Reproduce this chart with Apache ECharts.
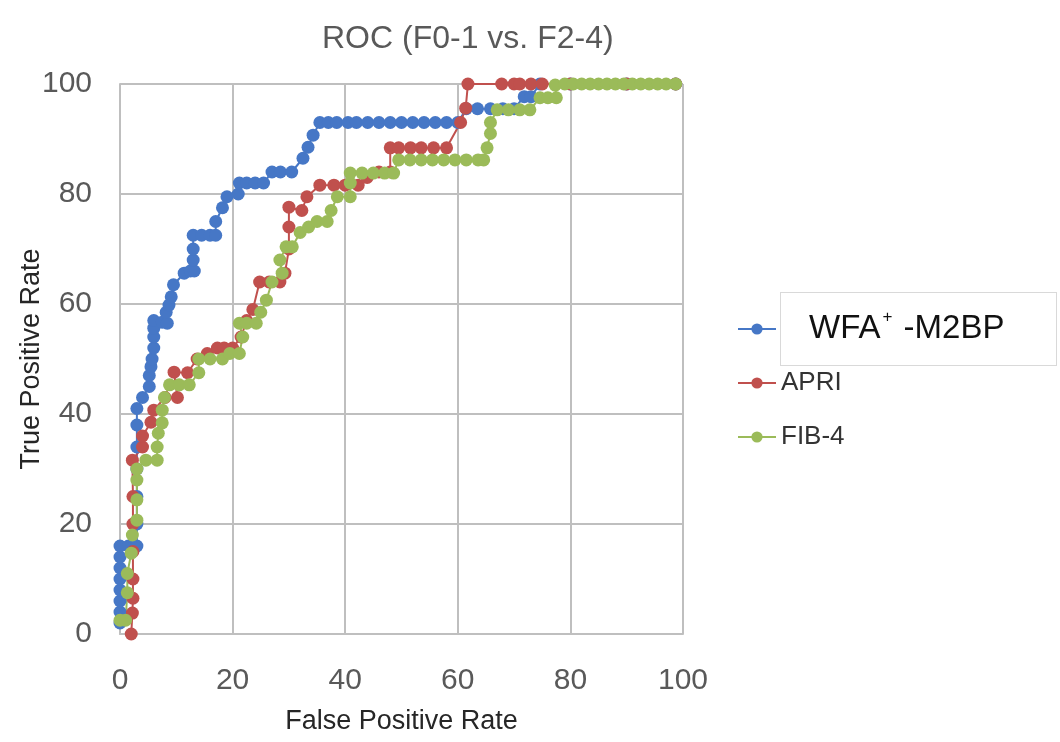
<!DOCTYPE html>
<html>
<head>
<meta charset="utf-8">
<title>ROC (F0-1 vs. F2-4)</title>
<script src="https://cdn.jsdelivr.net/npm/echarts@6/dist/echarts.min.js"></script>
<style>
  html, body { margin: 0; padding: 0; background: #fff; }
  #chart { width: 1060px; height: 742px; }
</style>
</head>
<body>
<div id="chart"></div>
<script>
// series names
const seriesNames = ['WFA+ -M2BP', 'APRI', 'FIB-4']

// [false positive rate, true positive rate]
const wfaData = [
  [0, 2], [0, 4], [0, 6], [0, 8], [0, 10], [0, 12], [0, 14], [0, 16], [1.5, 16], [3, 16],
  [3, 20], [3, 25], [3, 30], [3, 34], [3, 38], [3, 41], [4, 43], [5.2, 45], [5.2, 47], [5.5, 48.6],
  [5.7, 50], [6, 52], [6, 54], [6, 55.6], [6, 57], [7.5, 56.7], [8.4, 56.5], [8.2, 58.5], [8.7, 59.8],
  [9.1, 61.3], [9.5, 63.5], [11.4, 65.6], [12.5, 66], [13.2, 66], [13, 68], [13, 70], [13, 72.5],
  [14.5, 72.5], [16, 72.5], [17, 72.5], [17, 75], [18.2, 77.5], [19, 79.5], [21, 80], [21.2, 82],
  [22.5, 82], [24, 82], [25.5, 82], [27, 84], [28.5, 84], [30.5, 84], [32.5, 86.5], [33.4, 88.5],
  [34.3, 90.7], [35.5, 93], [37, 93], [38.5, 93], [40.5, 93], [42, 93], [44, 93], [46, 93], [48, 93],
  [50, 93], [52, 93], [54, 93], [56, 93], [58, 93], [60, 93], [61.5, 95.5], [63.5, 95.5], [65.8, 95.5],
  [68, 95.5], [70, 95.5], [71.8, 97.7], [73, 97.7], [74.6, 100], [80, 100], [90, 100], [98.7, 100]
]

const apriData = [
  [2, 0], [2.2, 3.8], [2.3, 6.5], [2.3, 10], [2.3, 15], [2.3, 20], [2.3, 25], [2.2, 31.6], [4, 34],
  [4, 36], [5.5, 38.5], [6, 40.7], [8, 43], [10.2, 43], [9.6, 47.6], [12, 47.5], [13.7, 50], [15.5, 51],
  [17.3, 52], [18.5, 52], [20, 52], [21.5, 54], [22.5, 57], [23.6, 59], [24.8, 64], [26.5, 64],
  [28.4, 64], [29.3, 65.6], [30, 70], [30, 74], [30, 77.6], [32.3, 77], [33.2, 79.5], [35.5, 81.6],
  [38, 81.6], [40, 81.6], [42.3, 81.6], [43.9, 83], [46, 84], [48, 84], [48, 88.4], [49.5, 88.4],
  [51.6, 88.4], [53.5, 88.4], [55.7, 88.4], [58, 88.4], [60.5, 93], [61.4, 95.6], [61.8, 100],
  [67.8, 100], [70, 100], [71, 100], [73, 100], [75, 100], [80, 100], [90, 100], [98.7, 100]
]

const fib4Data = [
  [0, 2.5], [1, 2.5], [1.3, 7.5], [1.3, 11], [2, 14.7], [2.2, 18], [3, 20.7], [3, 24.4], [3, 28],
  [3, 30], [4.6, 31.6], [6.6, 31.6], [6.6, 34], [6.8, 36.5], [7.5, 38.4], [7.5, 40.7], [7.9, 43],
  [8.8, 45.3], [10.5, 45.3], [12.3, 45.3], [14, 47.5], [14, 50], [16, 50], [18.2, 50], [19.5, 51],
  [21.2, 51], [21.8, 54], [21.2, 56.5], [22.5, 56.5], [24.2, 56.5], [25, 58.5], [26, 60.7], [27, 64],
  [28.8, 65.6], [28.4, 68], [29.5, 70.4], [30.6, 70.4], [32, 73], [33.5, 74], [35, 75], [36.8, 75],
  [37.5, 77], [38.6, 79.5], [40.9, 79.5], [40.9, 82], [40.9, 83.8], [43, 83.8], [45, 83.8], [47, 83.8],
  [48.6, 83.8], [49.5, 86.2], [51.5, 86.2], [53.5, 86.2], [55.5, 86.2], [57.5, 86.2], [59.5, 86.2],
  [61.5, 86.2], [63.6, 86.2], [64.6, 86.2], [65.2, 88.4], [65.8, 91], [65.8, 93], [67, 95.3], [69, 95.3],
  [71, 95.3], [72.8, 95.3], [74.6, 97.5], [76, 97.5], [77.5, 97.5], [77.3, 99.8], [79, 100], [80.5, 100],
  [82, 100], [83.5, 100], [85, 100], [86.5, 100], [88, 100], [89.5, 100], [91, 100], [92.5, 100],
  [94, 100], [95.5, 100], [97, 100], [98.7, 100]
]

const colors = ['#4677C6', '#C0504D', '#9BBB59']

const sans = "'Liberation Sans', Arial, sans-serif"

const chart = echarts.init(document.getElementById('chart'))

function makeSeries(name, data, color) {
  return {
    name: name,
    type: 'line',
    data: data,
    symbol: 'circle',
    symbolSize: 13,
    showAllSymbol: true,
    animation: false,
    itemStyle: { color: color },
    lineStyle: { color: color, width: 2 },
  }
}

const option = {
  backgroundColor: '#fff',
  title: {
    text: 'ROC (F0-1 vs. F2-4)',
    left: 322,
    top: 23,
    padding: 0,
    textStyle: { fontFamily: sans, fontSize: 32, fontWeight: 'normal', color: '#595959' },
  },
  grid: { left: 120, right: 377, top: 84, bottom: 108, outerBoundsMode: 'none' },
  xAxis: {
    type: 'value',
    min: 0,
    max: 100,
    interval: 20,
    name: 'False Positive Rate',
    nameLocation: 'middle',
    nameGap: 74,
    nameMoveOverlap: false,
    nameTextStyle: { fontFamily: sans, fontSize: 27, color: '#262626' },
    axisLine: { show: true, lineStyle: { color: '#bfbfbf', width: 2 } },
    axisTick: { show: false },
    axisLabel: { margin: 32, fontFamily: sans, fontSize: 30, color: '#595959' },
    splitLine: { show: true, lineStyle: { color: '#bfbfbf', width: 2 } },
  },
  yAxis: {
    type: 'value',
    min: 0,
    max: 100,
    interval: 20,
    name: 'True Positive Rate',
    nameLocation: 'middle',
    nameGap: 75,
    nameMoveOverlap: false,
    nameTextStyle: { fontFamily: sans, fontSize: 27, color: '#262626' },
    axisLine: { show: true, lineStyle: { color: '#bfbfbf', width: 2 } },
    axisTick: { show: false },
    axisLabel: { margin: 28, fontFamily: sans, fontSize: 30, color: '#595959' },
    splitLine: { show: true, lineStyle: { color: '#bfbfbf', width: 2 } },
  },
  legend: [
    {
      data: [seriesNames[0]],
      left: 737,
      top: 292,
      itemWidth: 38,
      itemHeight: 14,
      padding: 0,
      formatter: function () {
        return '{a|WFA}{s|+}{a| -M2BP}'
      },
      textStyle: {
        rich: {
          a: { fontFamily: sans, fontSize: 33, color: '#111' },
          s: { fontFamily: sans, fontSize: 17, color: '#111', verticalAlign: 'top', padding: [0, 2, 14, 2] },
        },
        backgroundColor: '#fff',
        borderColor: '#d9d9d9',
        borderWidth: 1,
        padding: [16, 0, 16, 28],
        width: 247,
        height: 40,
        lineHeight: 40,
      },
    },
    {
      data: [seriesNames[1]],
      left: 737,
      top: 370,
      itemWidth: 38,
      itemHeight: 14,
      padding: 0,
      textStyle: { fontFamily: sans, fontSize: 26, color: '#333' },
    },
    {
      data: [seriesNames[2]],
      left: 737,
      top: 424,
      itemWidth: 38,
      itemHeight: 14,
      padding: 0,
      textStyle: { fontFamily: sans, fontSize: 26, color: '#333' },
    },
  ],
  series: [
    makeSeries(seriesNames[0], wfaData, colors[0]),
    makeSeries(seriesNames[1], apriData, colors[1]),
    makeSeries(seriesNames[2], fib4Data, colors[2]),
  ],
}

chart.setOption(option)

window.addEventListener('resize', function () {
  chart.resize()
})
</script>
</body>
</html>
